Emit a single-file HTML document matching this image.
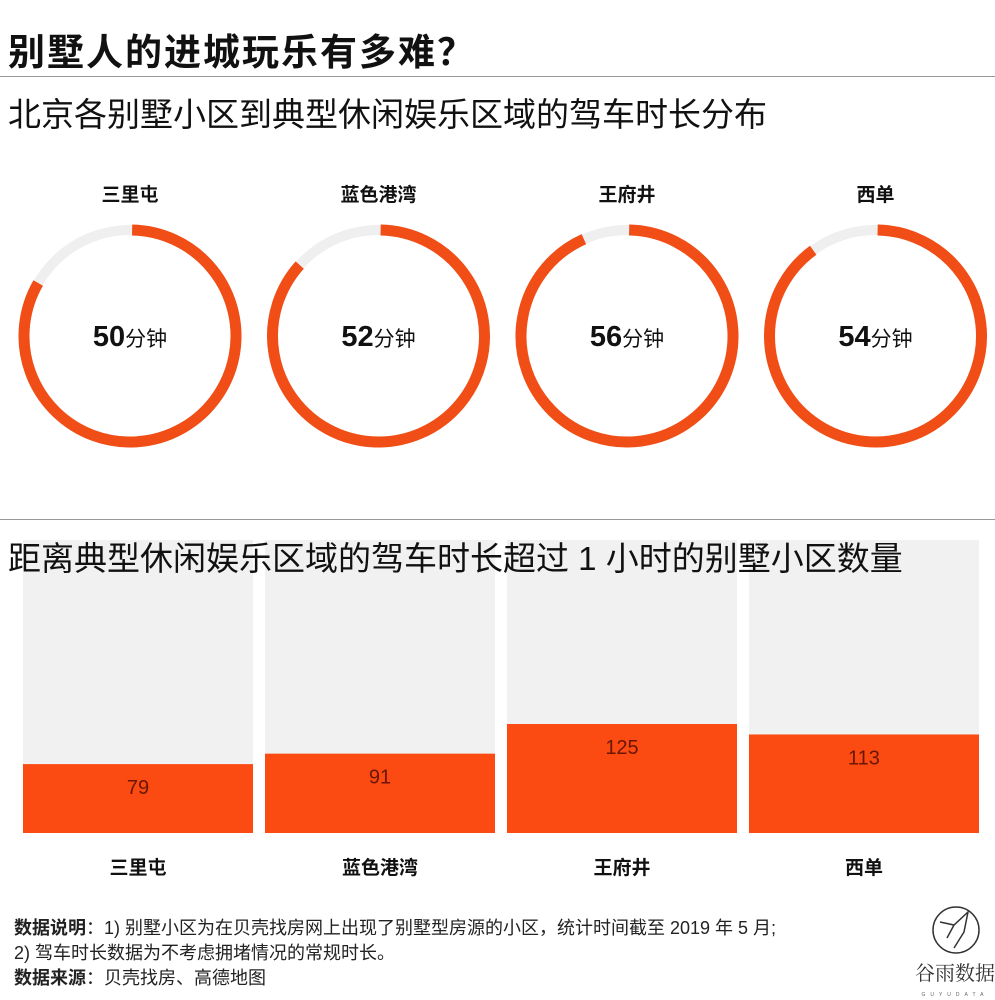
<!DOCTYPE html>
<html><head><meta charset="utf-8">
<style>
html,body{margin:0;padding:0;background:#fff;}
body{width:995px;height:1000px;position:relative;overflow:hidden;font-family:"Liberation Sans","Noto Sans CJK SC",sans-serif;}
.t{position:absolute;white-space:nowrap;}
</style></head><body>
<div class="t" style="left:8px;top:22px;font-size:37px;letter-spacing:2px;font-weight:bold;color:#111;">别墅人的进城玩乐有多难？</div>
<div style="position:absolute;left:0;top:76px;width:995px;height:1px;background:#999;"></div>
<div class="t" style="left:8px;top:88px;font-size:33px;color:#111;">北京各别墅小区到典型休闲娱乐区域的驾车时长分布</div>
<div style="position:absolute;left:0;top:519px;width:995px;height:1px;background:#999;"></div>
<svg id="chart" width="995" height="1000" style="position:absolute;left:0;top:0;"></svg>
<div class="t" style="left:8px;top:532px;font-size:33px;color:#111;">距离典型休闲娱乐区域的驾车时长超过 1 小时的别墅小区数量</div>
<div class="t" style="left:14px;top:914px;font-size:18px;color:#222;"><b>数据说明</b>：1) 别墅小区为在贝壳找房网上出现了别墅型房源的小区，统计时间截至 2019 年 5 月;</div>
<div class="t" style="left:14px;top:939px;font-size:18px;color:#222;">2) 驾车时长数据为不考虑拥堵情况的常规时长。</div>
<div class="t" style="left:14px;top:964px;font-size:18px;color:#222;"><b>数据来源</b>：贝壳找房、高德地图</div>
<svg width="85" height="100" style="position:absolute;left:912px;top:900px;">
<circle cx="44" cy="30" r="23" fill="none" stroke="#333" stroke-width="1.5"/>
<path d="M28 22 L42 25 L56 12 L52 32 L42 48 M42 25 L35 38" fill="none" stroke="#333" stroke-width="1.5"/>
<text x="43" y="80" text-anchor="middle" font-size="20" fill="#333" font-family="Noto Serif CJK SC,serif">谷雨数据</text>
<text x="43" y="96" text-anchor="middle" font-size="5" letter-spacing="5" fill="#666">GUYUDATA</text>
</svg>
<script>
const cats=["三里屯","蓝色港湾","王府井","西单"];
const minutes=[50,52,56,54];
const counts=[79,91,125,113];
const maxMinutes=60;
const maxCount=336;
const svg=document.getElementById('chart');
const NS="http://www.w3.org/2000/svg";
function mk(t,a){const e=document.createElementNS(NS,t);for(const k in a)e.setAttribute(k,a[k]);svg.appendChild(e);return e;}
const donutX=i=>130+i*248.5;
const donutY=336, R=106;
const ang=v=>v/maxMinutes*2*Math.PI;
const barX=i=>23+i*242, barW=230, base=833, panelTop=540;
const yS=v=>base-v/maxCount*(base-panelTop);
cats.forEach((c,i)=>{
  const cx=donutX(i);
  let e=mk('text',{x:cx,y:201,'text-anchor':'middle','font-size':19,'font-weight':'bold',fill:'#111'});
  e.textContent=c;
  
  
  e=mk('circle',{cx:cx,cy:donutY,r:R,fill:'none',stroke:'#efefef','stroke-width':10});
  
  
  const a0=0.02, a1=ang(minutes[i]);
  const p=a=>[cx+R*Math.sin(a),donutY-R*Math.cos(a)];
  const [x0,y0]=p(a0),[x1,y1]=p(a1);
  e=mk('path',{d:`M${x0} ${y0} A${R} ${R} 0 ${a1-a0>Math.PI?1:0} 1 ${x1} ${y1}`,fill:'none',stroke:'#f04e16','stroke-width':11});
  
  
  e=mk('text',{x:cx,y:donutY+10,'text-anchor':'middle',fill:'#111'});
  e.innerHTML=`<tspan font-size="29" font-weight="bold">${minutes[i]}</tspan><tspan font-size="21">分钟</tspan>`;
  
  
  const bx=barX(i);
  e=mk('rect',{x:bx,y:panelTop,width:barW,height:base-panelTop,fill:'#f1f1f1'});
  
  
  const yt=yS(counts[i]);
  e=mk('rect',{x:bx,y:yt,width:barW,height:base-yt,fill:'#fb4b12'});
  
  
  e=mk('text',{x:bx+barW/2,y:yt+30,'text-anchor':'middle','font-size':20,fill:'#6a1606'});
  e.textContent=counts[i];
  
  
  e=mk('text',{x:bx+barW/2,y:874,'text-anchor':'middle','font-size':19,'font-weight':'bold',fill:'#111'});
  e.textContent=c;
  
  
});
</script>
</body></html>
